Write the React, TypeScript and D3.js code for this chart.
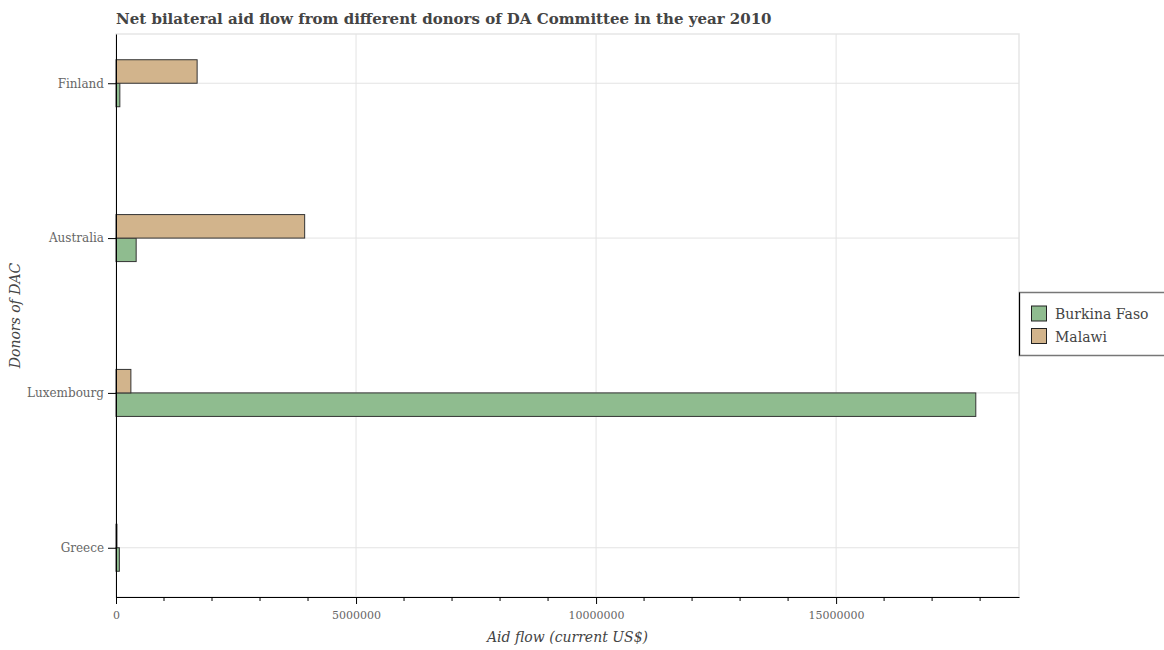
import * as d3 from 'd3';
import { useEffect, useRef } from 'react';

const donors = ['Finland', 'Australia', 'Luxembourg', 'Greece'];
const burkinaFaso = [80000, 420000, 17910000, 70000];
const malawi = [1690000, 3930000, 310000, 20000];
const seriesNames = ['Burkina Faso', 'Malawi'];
const seriesColors = ['#8fbc8f', '#d2b48c'];
const xTicks = [0, 5000000, 10000000, 15000000];

const W = 1164;
const H = 650;
const FONT = '"DejaVu Serif", serif';

export default function App() {
  const svgRef = useRef<SVGSVGElement>(null);

  useEffect(() => {
    if (!svgRef.current) return;
    const svg = d3.select(svgRef.current);
    svg.selectAll('*').remove();

    const m = { left: 116, right: 1019, top: 34, bottom: 597 };

    const x = d3.scaleLinear().domain([0, 18810000]).range([m.left, m.right]);
    const y = d3
      .scalePoint<string>()
      .domain(donors)
      .range([m.top, m.bottom])
      .padding(0.318);
    const barH = 23.5;

    // title
    svg
      .append('text')
      .attr('x', m.left)
      .attr('y', 24)
      .attr('font-family', FONT)
      .attr('font-size', 15)
      .attr('font-weight', 'bold')
      .attr('fill', '#444')
      .text('Net bilateral aid flow from different donors of DA Committee in the year 2010');

    // plot border + grid
    const grid = svg.append('g');
    grid
      .append('rect')
      .attr('x', m.left)
      .attr('y', m.top)
      .attr('width', m.right - m.left)
      .attr('height', m.bottom - m.top)
      .attr('fill', 'none')
      .attr('stroke', '#e6e6e6')
      .attr('stroke-width', 1.5);
    grid
      .selectAll('line.v')
      .data(xTicks.slice(1))
      .join('line')
      .attr('x1', (d) => x(d))
      .attr('x2', (d) => x(d))
      .attr('y1', m.top)
      .attr('y2', m.bottom)
      .attr('stroke', '#e3e3e3');
    grid
      .selectAll('line.h')
      .data(donors)
      .join('line')
      .attr('x1', m.left)
      .attr('x2', m.right)
      .attr('y1', (d) => y(d)!)
      .attr('y2', (d) => y(d)!)
      .attr('stroke', '#e3e3e3');

    // bars: Malawi above the band centre, Burkina Faso below
    const bars = svg.append('g');
    const series = [burkinaFaso, malawi];
    series.forEach((vals, si) => {
      bars
        .selectAll(`rect.s${si}`)
        .data(vals)
        .join('rect')
        .attr('x', x(0))
        .attr('y', (_, i) => (si === 1 ? y(donors[i])! - barH : y(donors[i])!))
        .attr('width', (d) => x(d) - x(0))
        .attr('height', barH)
        .attr('fill', seriesColors[si])
        .attr('stroke', '#333')
        .attr('stroke-width', 1);
    });

    // x axis
    const xAxis = svg
      .append('g')
      .attr('transform', `translate(0,${m.bottom})`)
      .call(
        d3
          .axisBottom(x)
          .tickValues(xTicks)
          .tickFormat(d3.format('d'))
          .tickSize(7)
          .tickSizeOuter(0)
      );
    xAxis.select('.domain').attr('stroke', '#000');
    xAxis
      .selectAll('text')
      .attr('font-family', FONT)
      .attr('font-size', 11)
      .attr('fill', '#666')
      .attr('dy', '1.1em');
    const minor = d3.range(1000000, 18810000, 1000000).filter((v) => v % 5000000 !== 0);
    svg
      .append('g')
      .selectAll('line')
      .data(minor)
      .join('line')
      .attr('x1', (d) => x(d))
      .attr('x2', (d) => x(d))
      .attr('y1', m.bottom)
      .attr('y2', m.bottom + 4)
      .attr('stroke', '#000');

    // y axis
    const yAxis = svg
      .append('g')
      .attr('transform', `translate(${m.left},0)`)
      .call(d3.axisLeft(y).tickSize(8).tickSizeOuter(0).tickPadding(4));
    yAxis.select('.domain').attr('stroke', '#000');
    yAxis
      .selectAll('text')
      .attr('font-family', FONT)
      .attr('font-size', 12)
      .attr('fill', '#666');

    // axis titles
    svg
      .append('text')
      .attr('x', (m.left + m.right) / 2)
      .attr('y', 642)
      .attr('text-anchor', 'middle')
      .attr('font-family', FONT)
      .attr('font-size', 14)
      .attr('font-style', 'italic')
      .attr('fill', '#444')
      .text('Aid flow (current US$)');
    svg
      .append('text')
      .attr('transform', `translate(20,${(m.top + m.bottom) / 2}) rotate(-90)`)
      .attr('text-anchor', 'middle')
      .attr('font-family', FONT)
      .attr('font-size', 14)
      .attr('font-style', 'italic')
      .attr('fill', '#444')
      .text('Donors of DAC');

    // legend
    const lg = svg.append('g');
    lg.append('rect')
      .attr('x', 1019.5)
      .attr('y', 292.5)
      .attr('width', 150)
      .attr('height', 63)
      .attr('fill', '#fff')
      .attr('stroke', '#777')
      .attr('stroke-width', 1.5);
    lg.append('line')
      .attr('x1', 1019.5)
      .attr('x2', 1019.5)
      .attr('y1', 292.5)
      .attr('y2', 355.5)
      .attr('stroke', '#000');
    seriesNames.forEach((name, i) => {
      lg.append('rect')
        .attr('x', 1031.5)
        .attr('y', 306 + i * 22.5)
        .attr('width', 15)
        .attr('height', 15)
        .attr('fill', seriesColors[i])
        .attr('stroke', '#222');
      lg.append('text')
        .attr('x', 1055)
        .attr('y', 319 + i * 22.5)
        .attr('font-family', FONT)
        .attr('font-size', 14)
        .attr('fill', '#444')
        .text(name);
    });
  }, []);

  return (
    <svg
      ref={svgRef}
      width={W}
      height={H}
      style={{ position: 'absolute', left: 0, top: 0, background: '#fff' }}
    />
  );
}
